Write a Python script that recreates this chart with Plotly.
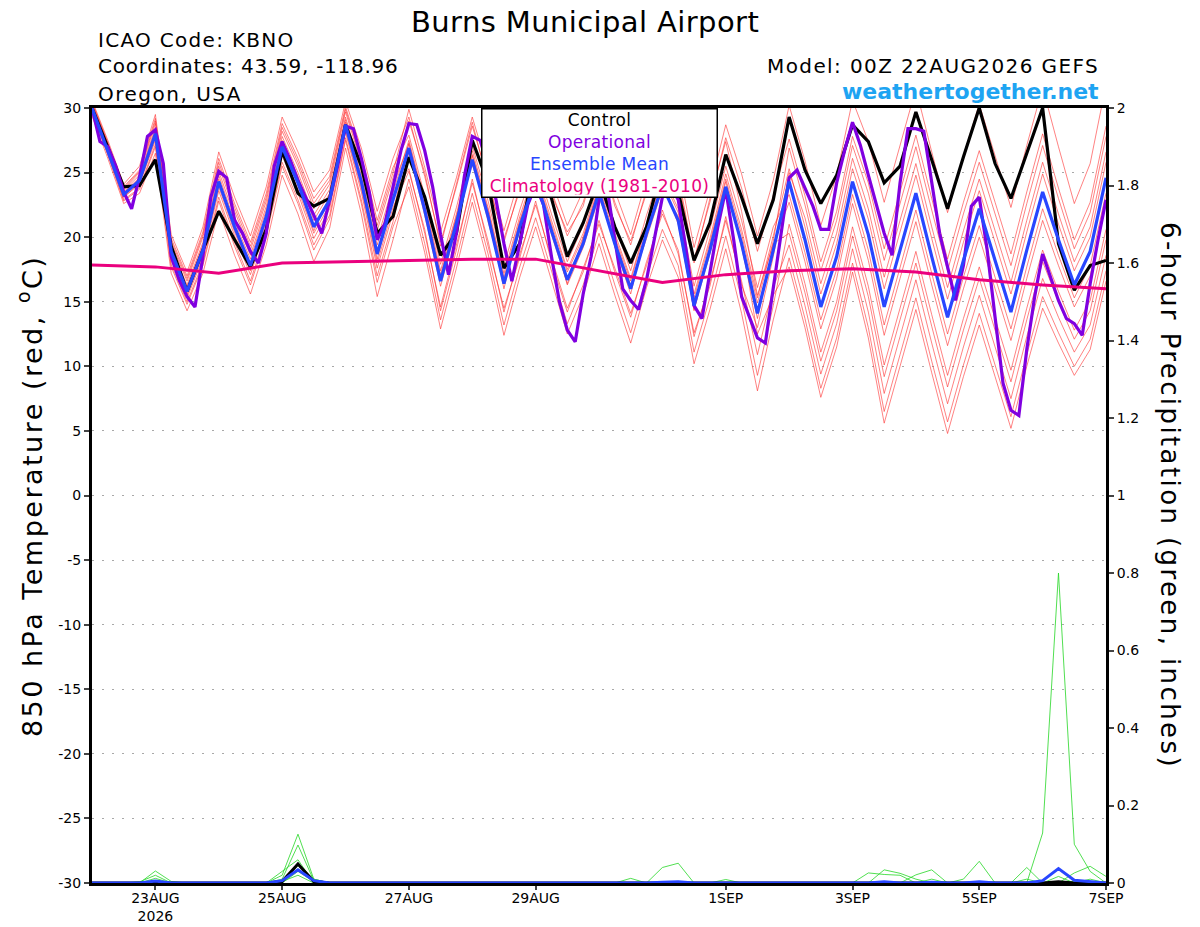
import pandas as pd
import plotly.graph_objects as go

# 00Z 22AUG2026 GEFS run, 6-hourly out to 384 h
run_start = pd.Timestamp("2026-08-22 00:00")
times = pd.date_range(run_start, periods=65, freq="6h")

# 850 hPa temperature (C)
control_temp = [30.0, 27.0, 23.9, 24.0, 26.0, 19.3, 15.8, 19.0, 22.0, 19.8, 17.7, 20.6, 26.7,
                23.4, 22.4, 23.0, 28.7, 25.5, 20.3, 21.6, 26.2, 23.1, 18.6, 20.3, 27.5, 24.2,
                17.6, 19.5, 26.5, 23.0, 18.5, 21.1, 24.5, 20.8, 18.0, 20.8, 25.5, 23.5, 18.2,
                21.1, 26.4, 23.1, 19.5, 22.9, 29.3, 25.2, 22.6, 24.8, 28.7, 27.4, 24.2, 25.5,
                29.7, 26.0, 22.2, 26.2, 30.0, 25.7, 23.0, 26.5, 30.0, 19.5, 15.9, 17.8, 18.2]

mean_temp = [30.0, 26.6, 23.3, 24.4, 28.0, 18.9, 15.8, 19.0, 24.3, 20.8, 17.8, 21.6, 27.0,
             24.2, 20.8, 22.9, 28.7, 24.3, 18.7, 22.9, 26.9, 22.1, 16.6, 21.1, 26.0, 21.6,
             16.4, 20.8, 24.5, 20.5, 16.7, 19.5, 23.5, 19.5, 16.0, 20.3, 24.0, 21.3, 14.7,
             19.0, 23.9, 19.5, 14.1, 19.0, 24.3, 19.8, 14.6, 18.5, 24.3, 20.2, 14.6, 19.0,
             23.4, 18.5, 13.8, 18.2, 22.2, 18.2, 14.2, 19.0, 23.5, 19.8, 16.3, 18.9, 24.6]

# operational GFS, 3-hourly
op_temp = [30.0, 27.4, 27.0, 25.5, 23.5, 22.2, 24.7, 27.8, 28.3, 25.7,
           18.5, 16.7, 15.4, 14.6, 18.5, 23.1, 25.1, 24.6, 21.3, 20.3,
           18.9, 18.0, 20.3, 25.5, 27.4, 26.0, 24.4, 23.1, 21.7, 20.3,
           22.9, 25.5, 28.6, 28.4, 26.1, 23.5, 19.8, 21.1, 23.9, 26.7,
           28.8, 28.7, 26.7, 23.9, 20.2, 17.1, 20.3, 24.7, 27.8, 27.5,
           25.5, 22.9, 19.5, 16.6, 19.5, 22.5, 24.0, 22.5, 18.5, 15.0,
           12.8, 11.9, 15.6, 18.5, 22.9, 24.0, 19.8, 16.0, 15.1, 14.4,
           16.7, 19.8, 23.1, 24.0, 22.9, 19.0, 14.7, 13.7, 17.2, 20.8,
           23.7, 19.8, 15.4, 13.8, 12.2, 11.8, 16.2, 20.3, 24.6, 25.2,
           23.8, 22.4, 20.6, 20.6, 24.2, 26.7, 28.9, 27.1, 24.8, 22.6,
           20.3, 18.6, 24.2, 28.4, 28.4, 28.2, 24.2, 20.3, 17.7, 15.1,
           17.8, 22.4, 23.1, 19.0, 13.8, 8.7, 6.6, 6.2, 11.3, 15.4,
           18.7, 16.9, 15.1, 13.7, 13.3, 12.4, 16.4, 19.8, 22.9]
op_times = [run_start + pd.Timedelta(hours=3 * k) for k in range(len(op_temp))]

# 1981-2010 climatology, daily at 00Z
clim_times = pd.date_range(run_start, periods=17, freq="D")
clim_temp = [17.85, 17.7, 17.2, 18.0, 18.1, 18.2, 18.3, 18.3, 17.4, 16.5, 17.1, 17.4,
             17.55, 17.3, 16.7, 16.3, 16.0]

# ensemble members
member_01 = [30.6, 27.5, 24.1, 25.5, 29.5, 20.2, 17.3, 20.8, 26.6, 23.1, 20.1, 23.9, 29.3,
             26.6, 23.5, 25.2, 30.5, 26.9, 22.0, 26.1, 29.3, 24.7, 19.6, 23.9, 28.6, 24.5,
             19.6, 23.9, 27.5, 23.6, 20.1, 22.7, 26.7, 22.7, 19.4, 23.7, 27.4, 24.8, 18.3,
             22.7, 27.7, 23.8, 18.9, 23.3, 27.6, 23.2, 18.1, 22.0, 27.8, 24.2, 19.1, 23.5,
             27.9, 23.0, 18.3, 22.7, 26.7, 22.7, 18.7, 23.5, 28.0, 23.8, 19.8, 22.7, 28.6]
member_02 = [30.4, 27.3, 23.8, 25.1, 29.0, 19.7, 16.8, 20.2, 25.8, 22.3, 19.3, 23.1, 28.5,
             25.8, 22.6, 24.4, 29.9, 26.0, 20.9, 25.0, 29.9, 25.4, 20.4, 24.6, 29.3, 25.2,
             20.5, 24.7, 28.3, 24.4, 20.9, 23.6, 27.6, 23.6, 20.2, 24.5, 28.2, 25.7, 19.2,
             23.7, 28.7, 24.9, 20.1, 24.4, 30.2, 25.9, 20.9, 24.8, 30.6, 27.4, 22.7, 27.1,
             31.5, 26.6, 21.9, 26.3, 30.3, 26.3, 22.3, 27.1, 31.6, 27.0, 22.6, 25.7, 31.8]
member_03 = [30.2, 27.0, 23.6, 24.8, 28.5, 19.2, 16.3, 19.6, 25.1, 21.6, 18.6, 22.4, 27.8,
             25.0, 21.7, 23.7, 29.3, 25.2, 19.8, 24.0, 27.2, 22.0, 16.9, 21.5, 25.6, 21.9,
             16.0, 21.2, 24.9, 20.2, 16.4, 19.9, 23.9, 19.3, 15.6, 20.7, 24.4, 21.0, 14.3,
             19.4, 24.3, 19.2, 13.7, 19.4, 22.7, 18.1, 12.9, 16.8, 22.6, 18.2, 12.4, 16.8,
             21.2, 16.3, 11.6, 16.0, 20.0, 16.0, 12.0, 16.8, 21.3, 17.8, 14.6, 17.0, 22.6]
member_04 = [29.8, 26.6, 23.1, 24.1, 27.5, 18.2, 15.3, 18.4, 23.6, 20.1, 17.1, 20.9, 26.3,
             23.4, 19.9, 22.2, 28.1, 23.5, 17.6, 21.9, 27.3, 22.5, 17.1, 21.6, 26.4, 22.1,
             16.9, 21.3, 25.0, 21.0, 17.3, 20.0, 24.0, 20.0, 16.6, 20.9, 24.6, 21.9, 15.3,
             19.6, 24.5, 20.2, 14.9, 19.7, 26.9, 22.5, 17.4, 21.3, 27.1, 23.4, 18.2, 22.6,
             27.0, 22.1, 17.4, 21.8, 25.8, 21.8, 17.8, 22.6, 27.1, 23.0, 19.1, 21.9, 27.8]
member_05 = [30.0, 26.7, 23.2, 24.5, 28.2, 18.6, 15.6, 19.1, 24.5, 20.6, 17.5, 21.8, 27.3,
             24.0, 20.5, 23.1, 28.9, 24.1, 18.3, 23.2, 25.3, 20.3, 14.6, 19.3, 24.2, 19.7,
             14.2, 18.7, 22.5, 18.4, 14.5, 17.3, 21.3, 17.3, 13.8, 18.1, 21.8, 19.0, 12.3,
             16.5, 21.3, 16.6, 10.9, 16.1, 19.4, 14.7, 9.4, 13.3, 19.1, 14.2, 7.9, 12.3,
             16.7, 11.8, 7.1, 11.5, 15.5, 11.5, 7.5, 12.3, 16.8, 13.8, 11.1, 13.2, 18.6]
member_06 = [29.6, 26.4, 22.8, 23.7, 27.0, 17.7, 14.8, 17.8, 22.8, 19.3, 16.3, 20.1, 25.5,
             22.6, 19.0, 21.4, 27.5, 22.6, 16.5, 20.8, 23.9, 18.8, 12.9, 17.6, 22.7, 18.0,
             12.4, 16.9, 20.8, 16.6, 12.5, 15.5, 19.5, 15.5, 11.8, 16.1, 19.8, 16.9, 10.2,
             14.4, 19.1, 14.1, 8.1, 13.6, 18.4, 13.7, 8.3, 12.2, 18.0, 13.0, 6.5, 10.9,
             15.3, 10.4, 5.7, 10.1, 14.1, 10.1, 6.1, 10.9, 15.4, 12.6, 10.0, 12.1, 17.4]
member_07 = [30.1, 27.0, 23.5, 24.6, 28.3, 19.0, 16.1, 19.4, 24.8, 21.2, 18.3, 22.1, 27.5,
             24.7, 21.3, 23.4, 29.1, 24.8, 19.4, 23.5, 27.5, 22.8, 17.4, 21.8, 26.7, 22.3,
             17.2, 21.6, 25.3, 21.3, 17.5, 20.3, 24.3, 20.3, 16.8, 21.1, 24.8, 22.2, 15.6,
             19.9, 24.9, 20.6, 15.3, 20.1, 25.3, 20.8, 15.6, 19.5, 25.3, 21.4, 16.0, 20.4,
             24.8, 19.9, 15.2, 19.6, 23.6, 19.6, 15.6, 20.4, 24.9, 21.0, 17.4, 20.0, 25.8]
member_08 = [29.9, 26.7, 23.1, 24.2, 27.7, 18.4, 15.5, 18.6, 23.9, 20.4, 17.4, 21.2, 26.6,
             23.7, 20.3, 22.5, 28.3, 23.8, 18.0, 22.3, 25.1, 20.6, 14.3, 19.0, 24.5, 19.3,
             14.5, 18.4, 22.8, 18.1, 14.2, 17.6, 21.0, 17.6, 14.1, 17.8, 22.1, 18.7, 12.6,
             16.2, 21.6, 16.3, 13.0, 18.5, 25.0, 21.5, 16.4, 20.3, 26.1, 22.2, 16.9, 21.3,
             25.7, 20.8, 16.1, 20.5, 24.5, 20.5, 16.5, 21.3, 25.8, 21.8, 18.1, 20.8, 26.6]
member_09 = [30.5, 27.3, 23.9, 25.2, 29.2, 19.9, 17.0, 20.4, 26.1, 22.6, 19.6, 23.4, 28.8,
             26.1, 23.0, 24.7, 30.1, 26.3, 21.3, 25.4, 27.9, 23.2, 17.9, 22.3, 27.1, 22.8,
             17.8, 22.1, 25.8, 21.8, 18.1, 20.9, 24.9, 20.9, 17.4, 21.7, 25.4, 22.8, 16.2,
             20.6, 25.5, 21.3, 16.1, 20.8, 23.3, 18.8, 13.6, 17.5, 23.3, 19.0, 13.2, 17.7,
             22.1, 17.2, 12.5, 16.9, 20.9, 16.9, 12.9, 17.7, 22.2, 18.6, 15.3, 17.8, 23.4]
member_10 = [29.4, 26.1, 22.6, 23.4, 26.5, 17.2, 14.3, 17.2, 22.1, 18.6, 15.6, 19.4, 24.8,
             21.8, 18.1, 20.7, 26.9, 21.8, 15.4, 19.8, 24.5, 19.5, 13.6, 18.3, 23.4, 18.7,
             13.2, 17.7, 21.5, 17.4, 13.3, 16.3, 20.3, 16.3, 12.6, 16.9, 20.6, 17.8, 11.1,
             15.3, 20.1, 15.2, 9.3, 14.7, 21.0, 16.4, 11.1, 15.0, 20.8, 16.2, 10.1, 14.5,
             18.9, 14.0, 9.3, 13.7, 17.7, 13.7, 9.7, 14.5, 19.0, 15.8, 12.8, 15.1, 20.6]
member_11 = [30.3, 27.2, 23.7, 25.0, 28.8, 19.5, 16.6, 20.0, 25.5, 22.0, 19.0, 22.8, 28.2,
             25.5, 22.2, 24.1, 29.7, 25.7, 20.5, 24.6, 29.0, 25.0, 19.3, 24.2, 28.9, 24.2,
             19.9, 23.6, 27.8, 23.3, 20.4, 22.4, 27.0, 22.4, 19.7, 23.4, 27.7, 24.5, 18.0,
             23.0, 27.4, 22.0, 15.5, 19.5, 20.3, 15.7, 10.4, 14.3, 20.1, 15.4, 9.2, 13.6,
             18.0, 13.1, 8.4, 12.8, 16.8, 12.8, 8.8, 13.6, 18.1, 15.0, 12.1, 14.3, 19.8]
member_12 = [29.7, 26.4, 22.9, 23.8, 27.2, 17.9, 15.0, 18.0, 23.1, 19.6, 16.6, 20.4, 25.8,
             22.9, 19.4, 21.7, 27.7, 22.9, 17.0, 21.2, 26.6, 21.7, 16.2, 20.7, 26.3, 21.2,
             16.7, 20.4, 24.2, 20.8, 16.3, 19.2, 23.1, 19.8, 16.3, 19.9, 23.7, 21.6, 14.4,
             18.7, 23.5, 19.8, 12.5, 15.5, 17.7, 13.0, 7.6, 11.5, 17.3, 12.2, 5.6, 10.0,
             14.4, 9.5, 4.8, 9.2, 13.2, 9.2, 5.2, 10.0, 14.5, 11.8, 9.3, 11.3, 16.6]

# 6-hour precipitation (inches)
control_precip = [0, 0, 0, 0, 0, 0, 0, 0, 0, 0, 0, 0, 0.004,
                  0.049, 0.004, 0, 0, 0, 0, 0, 0, 0, 0, 0, 0, 0,
                  0, 0, 0, 0, 0, 0, 0, 0, 0, 0, 0, 0, 0,
                  0, 0, 0, 0, 0, 0, 0, 0, 0, 0, 0, 0, 0,
                  0, 0, 0, 0, 0, 0, 0, 0, 0, 0.003, 0, 0, 0]
mean_precip = [0, 0, 0, 0, 0.005, 0, 0, 0, 0, 0, 0, 0, 0.006,
               0.034, 0.006, 0, 0, 0, 0, 0, 0, 0, 0, 0, 0, 0,
               0, 0, 0, 0, 0, 0, 0, 0, 0, 0, 0.002, 0.003, 0,
               0, 0, 0, 0, 0, 0, 0, 0, 0, 0, 0, 0.003, 0,
               0, 0.002, 0, 0, 0.003, 0, 0, 0, 0.006, 0.037, 0.007, 0.004, 0]
precip_01 = [0, 0, 0, 0, 0.031, 0.004, 0, 0, 0, 0, 0, 0, 0.02,
             0.126, 0.01, 0, 0, 0, 0, 0, 0, 0, 0, 0, 0, 0,
             0, 0, 0, 0, 0, 0, 0, 0, 0, 0, 0.04, 0.051, 0,
             0, 0, 0, 0, 0, 0, 0, 0, 0, 0, 0, 0, 0,
             0, 0, 0, 0, 0, 0, 0, 0, 0.129, 0.8, 0.1, 0.03, 0]
precip_02 = [0, 0, 0, 0.003, 0.02, 0, 0, 0, 0, 0, 0, 0, 0.01,
             0.098, 0.006, 0, 0, 0, 0, 0, 0, 0, 0, 0, 0, 0,
             0, 0, 0, 0, 0, 0, 0, 0, 0.012, 0, 0, 0, 0,
             0, 0, 0, 0, 0, 0, 0, 0, 0, 0, 0, 0.034, 0.025,
             0.01, 0, 0, 0, 0, 0, 0, 0, 0, 0, 0.026, 0.043, 0.017]
precip_03 = [0, 0, 0, 0, 0.012, 0, 0, 0, 0, 0, 0, 0, 0.03,
             0.06, 0, 0, 0, 0, 0, 0, 0, 0, 0, 0, 0, 0,
             0, 0, 0, 0, 0, 0, 0, 0, 0, 0, 0, 0, 0,
             0, 0.009, 0, 0, 0, 0, 0, 0, 0, 0, 0, 0, 0,
             0.021, 0.034, 0, 0.01, 0.056, 0, 0, 0.04, 0, 0, 0, 0, 0]
precip_04 = [0, 0, 0, 0, 0.006, 0, 0, 0, 0, 0, 0, 0, 0,
             0.045, 0.01, 0, 0, 0, 0, 0, 0, 0, 0, 0, 0, 0,
             0, 0, 0, 0, 0, 0, 0, 0, 0, 0, 0, 0, 0,
             0, 0, 0, 0, 0, 0, 0, 0, 0, 0, 0.026, 0.022, 0.02,
             0, 0, 0, 0, 0, 0, 0, 0, 0, 0.017, 0, 0, 0]
precip_05 = [0, 0, 0, 0, 0, 0, 0, 0, 0, 0, 0, 0, 0,
             0.03, 0.004, 0, 0, 0, 0, 0, 0, 0, 0, 0, 0, 0,
             0, 0, 0, 0, 0, 0, 0, 0, 0, 0, 0, 0, 0,
             0, 0, 0, 0, 0, 0, 0, 0, 0, 0, 0, 0, 0,
             0, 0.01, 0, 0, 0, 0, 0, 0.01, 0, 0, 0, 0.01, 0]
precip_06 = [0, 0, 0, 0, 0, 0, 0, 0, 0, 0, 0, 0, 0.004,
             0.02, 0, 0, 0, 0, 0, 0, 0, 0, 0, 0, 0, 0,
             0, 0, 0, 0, 0, 0, 0, 0, 0, 0, 0, 0, 0,
             0, 0, 0, 0, 0, 0, 0, 0, 0, 0, 0, 0, 0,
             0, 0, 0, 0, 0, 0, 0, 0, 0, 0, 0.005, 0, 0]

tick_dates = ["2026-08-23", "2026-08-25", "2026-08-27", "2026-08-29",
              "2026-09-01", "2026-09-03", "2026-09-05", "2026-09-07"]
tick_labels = ["23AUG<br>2026", "25AUG", "27AUG", "29AUG", "1SEP", "3SEP", "5SEP", "7SEP"]
temp_ticks = [-30, -25, -20, -15, -10, -5, 0, 5, 10, 15, 20, 25, 30]
precip_ticks = [0, 0.2, 0.4, 0.6, 0.8, 1, 1.2, 1.4, 1.6, 1.8, 2]
precip_labels = ["0", "0.2", "0.4", "0.6", "0.8", "1", "1.2", "1.4", "1.6", "1.8", "2"]

BLACK, PURPLE, BLUE, PINK = "#000000", "#8000e0", "#2846ff", "#ea007e"
RED, GREEN = "rgba(255,45,45,0.75)", "rgba(40,215,40,0.9)"
FONT = "DejaVu Sans, Liberation Sans, Arial, sans-serif"


def spaced(text, px):
    # widen the letter spacing a little, the original lettering runs wide
    return f"<span style='letter-spacing:{px}px'>{text}</span>"


fig = go.Figure()

members = [member_01, member_02, member_03, member_04, member_05, member_06,
           member_07, member_08, member_09, member_10, member_11, member_12]
for m in members:
    fig.add_trace(go.Scatter(x=times, y=m, mode="lines", line=dict(color=RED, width=0.8),
                             showlegend=False, hoverinfo="skip"))

for p in [precip_01, precip_02, precip_03, precip_04, precip_05, precip_06]:
    fig.add_trace(go.Scatter(x=times, y=p, mode="lines", yaxis="y2",
                             line=dict(color=GREEN, width=0.9), showlegend=False, hoverinfo="skip"))

fig.add_trace(go.Scatter(x=times, y=control_precip, mode="lines", yaxis="y2",
                         line=dict(color=BLACK, width=3), showlegend=False))
fig.add_trace(go.Scatter(x=times, y=mean_precip, mode="lines", yaxis="y2",
                         line=dict(color=BLUE, width=3), showlegend=False))

fig.add_trace(go.Scatter(x=times, y=control_temp, mode="lines",
                         line=dict(color=BLACK, width=3.2), showlegend=False))
fig.add_trace(go.Scatter(x=op_times, y=op_temp, mode="lines",
                         line=dict(color=PURPLE, width=3.2), showlegend=False))
fig.add_trace(go.Scatter(x=times, y=mean_temp, mode="lines",
                         line=dict(color=BLUE, width=3.2), showlegend=False))
fig.add_trace(go.Scatter(x=clim_times, y=clim_temp, mode="lines",
                         line=dict(color=PINK, width=3), showlegend=False))

legend_text = (f"<span style='color:{BLACK}'>Control</span><br>"
               f"<span style='color:{PURPLE}'>Operational</span><br>"
               f"<span style='color:{BLUE}'>Ensemble Mean</span><br>"
               f"<span style='color:{PINK}'>Climatology (1981-2010)</span>")

fig.update_layout(
    width=1200, height=927,
    margin=dict(l=92, r=94, t=108, b=44),
    paper_bgcolor="white", plot_bgcolor="white",
    font=dict(family=FONT, color="black", size=14),
    xaxis=dict(range=["2026-08-22 00:00", "2026-09-07 00:00"], tickvals=tick_dates,
               ticktext=tick_labels, ticks="outside", ticklen=4, tickwidth=1.5,
               ticklabelstandoff=-4,
               showgrid=False, showline=True, linewidth=3, linecolor="black", mirror=True,
               zeroline=False, automargin=False, tickfont=dict(size=14)),
    yaxis=dict(range=[-30, 30], tickvals=temp_ticks, ticktext=[str(t) for t in temp_ticks],
               ticks="outside", ticklen=5, tickwidth=1.5, showgrid=True, gridcolor="#a8a8a8",
               gridwidth=1, griddash="2px,8px", zeroline=False, showline=True, linewidth=3,
               linecolor="black", mirror=True, automargin=False, tickfont=dict(size=14)),
    yaxis2=dict(range=[0, 2], overlaying="y", side="right", tickvals=precip_ticks,
                ticktext=precip_labels, ticks="outside", ticklen=5, tickwidth=1.5,
                showgrid=False, zeroline=False, showline=True, linewidth=3, linecolor="black",
                automargin=False, tickfont=dict(size=14)),
    annotations=[
        dict(text=spaced("Burns Municipal Airport", 0.4), xref="paper", yref="paper",
             x=0.486, y=1.1105, xanchor="center", yanchor="middle", showarrow=False,
             font=dict(size=29)),
        dict(text=spaced("ICAO Code: KBNO", 1.3), xref="paper", yref="paper", x=0.004,
             y=1.0871, xanchor="left", yanchor="middle", showarrow=False, font=dict(size=20)),
        dict(text=spaced("Coordinates: 43.59, -118.96", 0.75), xref="paper", yref="paper",
             x=0.004, y=1.0536, xanchor="left", yanchor="middle", showarrow=False,
             font=dict(size=20)),
        dict(text=spaced("Oregon, USA", 1.5), xref="paper", yref="paper", x=0.004, y=1.0185,
             xanchor="left", yanchor="middle", showarrow=False, font=dict(size=20)),
        dict(text=spaced("Model: 00Z 22AUG2026 GEFS", 1.4), xref="paper", yref="paper",
             x=0.995, y=1.0542, xanchor="right", yanchor="middle", showarrow=False,
             font=dict(size=20)),
        dict(text="<b>weathertogether.net</b>", xref="paper", yref="paper", x=0.995, y=1.0219,
             xanchor="right", yanchor="middle", showarrow=False,
             font=dict(size=22, color="#1ea4f2")),
        dict(text=spaced("850 hPa Temperature (red, <sup>o</sup>C)", 2.5), xref="paper",
             yref="paper", x=-0.061, y=0.4994, xanchor="center", yanchor="middle",
             textangle=-90, showarrow=False, font=dict(size=27)),
        dict(text=spaced("6-hour Precipitation (green, inches)", 2.4), xref="paper",
             yref="paper", x=1.063, y=0.4994, xanchor="center", yanchor="middle",
             textangle=90, showarrow=False, font=dict(size=26)),
        dict(text=spaced(legend_text, 0.3), xref="paper", yref="paper", x=0.5, y=1.0,
             xanchor="center", yanchor="top", showarrow=False, align="center",
             bgcolor="white", bordercolor="black", borderwidth=1.5, borderpad=2,
             width=230, height=83, font=dict(size=17)),
    ],
)

# drop the default 8px page margin so the figure fills the window exactly
fig.write_html("out.html", config={"displayModeBar": False},
               post_script="document.body.style.margin = '0';")
